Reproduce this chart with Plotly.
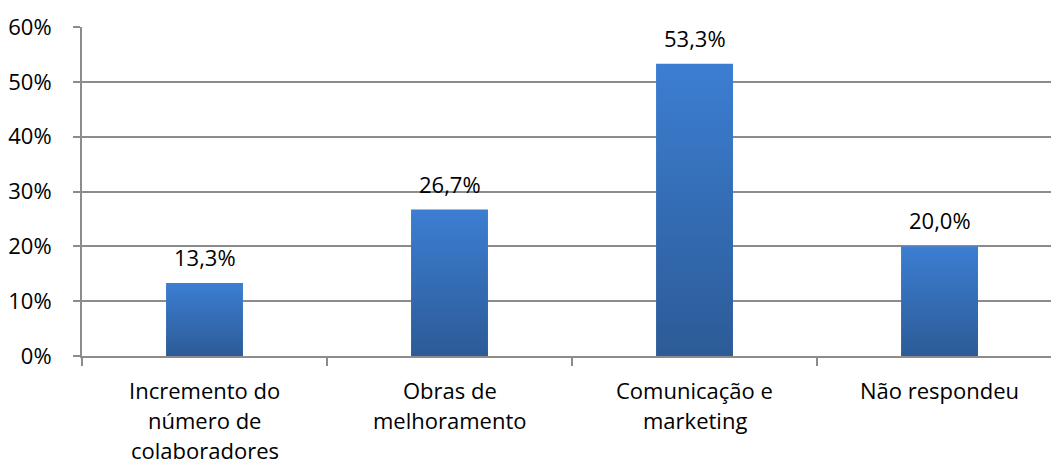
import plotly.graph_objects as go

categories = ["Incremento do<br>número de<br>colaboradores", "Obras de<br>melhoramento",
              "Comunicação e<br>marketing", "Não respondeu"]
values = [0.133, 0.267, 0.533, 0.200]
y_ticks = [0, 0.1, 0.2, 0.3, 0.4, 0.5, 0.6]

FONT = "Open Sans"
FS = 22
TOP = "#3c7ed2"
BOTTOM = "#2c5b97"
HALF = 0.157
GRID = "#8c8c8c"

fig = go.Figure()
for i, v in enumerate(values):
    fig.add_trace(go.Scatter(
        x=[i - HALF, i + HALF, i + HALF, i - HALF, i - HALF],
        y=[0, 0, v, v, 0],
        mode="lines", line=dict(width=0), fill="toself",
        fillgradient=dict(type="vertical", colorscale=[[0, BOTTOM], [1, TOP]]),
        hoverinfo="skip", showlegend=False))

annotations = []
for i, v in enumerate(values):
    annotations.append(dict(x=i, y=v, xref="x", yref="y", showarrow=False,
                            text=f"{v*100:.1f}%".replace(".", ","), yshift=26,
                            yanchor="middle", font=dict(family=FONT, size=FS, color="#000")))
for i, cat in enumerate(categories):
    for k, line in enumerate(cat.split("<br>")):
        annotations.append(dict(x=i, y=0, xref="x", yref="y", showarrow=False,
                                text=line, yshift=-(34 + 30 * k), yanchor="middle",
                                font=dict(family=FONT, size=FS, color="#000")))

fig.update_layout(
    width=1051, height=466,
    margin=dict(l=82, r=0, t=27, b=110),
    plot_bgcolor="white", paper_bgcolor="white",
    font=dict(family=FONT, size=FS, color="#000"),
    annotations=annotations,
    xaxis=dict(range=[-0.5, 3.455], tickvals=list(range(len(categories))),
               ticktext=[""] * len(categories), automargin=False,
               ticks="", showgrid=False, zeroline=False, showline=True,
               linecolor=GRID, linewidth=2,
               minor=dict(tickvals=[-0.5, 0.5, 1.5, 2.5], ticks="outside",
                          ticklen=8, tickcolor=GRID, tickwidth=2, showgrid=False)),
    yaxis=dict(range=[0, 0.6], tickvals=y_ticks, tickformat=".0%", automargin=False,
               ticks="outside", ticklen=7, tickcolor=GRID, tickwidth=2,
               ticklabelstandoff=17,
               showgrid=True, gridcolor=GRID, gridwidth=2,
               zeroline=False, showline=True, linecolor=GRID, linewidth=2,
               tickfont=dict(family=FONT, size=FS)),
)

fig.write_html("out.html", config={"displayModeBar": False},
               post_script="document.body.style.margin='0';document.body.style.overflow='hidden';")
